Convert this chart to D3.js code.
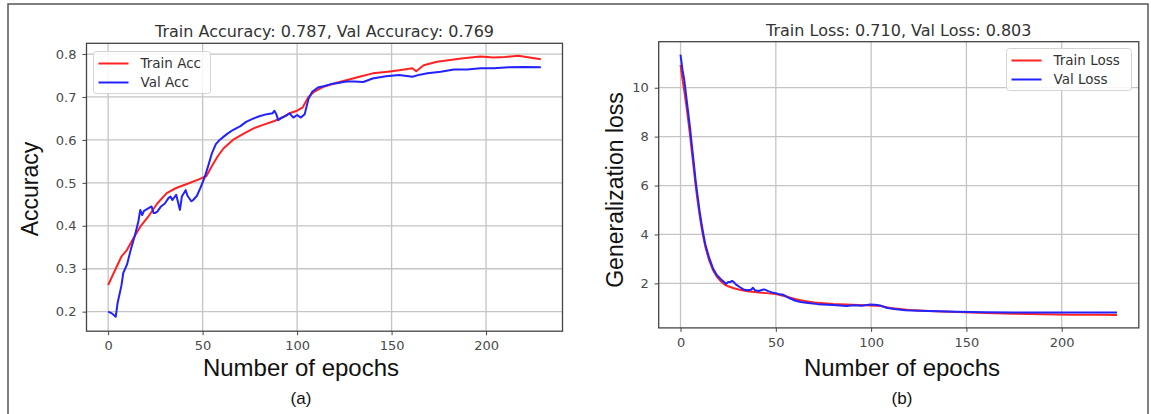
<!DOCTYPE html>
<html>
<head>
<meta charset="utf-8">
<script src="https://cdn.jsdelivr.net/npm/d3@7"></script>
<style>
  body { margin: 0; background: #fff; }
  text { font-family: "DejaVu Sans", sans-serif; }
  .big { font-family: "Liberation Sans", Arial, sans-serif; }
</style>
</head>
<body>
<div id="chart"></div>
<script>
// ---------------- data ----------------
const xTicks = [0, 50, 100, 150, 200]
const accTicks = [0.2, 0.3, 0.4, 0.5, 0.6, 0.7, 0.8]
const lossTicks = [2, 4, 6, 8, 10]

const trainAccEpochs = [0, 4, 7, 10, 13, 17, 21, 26, 31, 36,
    42, 48, 52, 55, 58, 61, 66, 72, 77, 82,
    88, 93, 96, 100, 103, 106, 109, 114, 121, 126,
    133, 140, 148, 155, 161, 163, 167, 174, 181, 188,
    197, 204, 210, 217, 223, 229]
const trainAcc = [0.262, 0.30, 0.328, 0.344, 0.368, 0.398, 0.42, 0.452, 0.476, 0.488,
    0.498, 0.508, 0.516, 0.54, 0.562, 0.58, 0.60, 0.615, 0.627, 0.635,
    0.644, 0.654, 0.662, 0.668, 0.676, 0.70, 0.712, 0.724, 0.733, 0.739,
    0.747, 0.755, 0.759, 0.763, 0.767, 0.760, 0.774, 0.782, 0.786, 0.790,
    0.794, 0.792, 0.793, 0.796, 0.792, 0.788]

const valAccEpochs = [0, 2, 4, 5, 7, 8, 10, 12, 14, 16,
    17, 18, 19, 21, 23, 24, 25, 26, 28, 30,
    32, 33, 34, 36, 37, 38, 39, 41, 42, 44,
    45, 47, 49, 51, 53, 55, 57, 59, 61, 63,
    66, 70, 73, 77, 80, 84, 87, 88, 89, 90,
    92, 94, 96, 98, 100, 102, 104, 106, 108, 111,
    114, 118, 121, 126, 130, 135, 140, 147, 154, 158,
    161, 165, 169, 176, 183, 190, 197, 204, 212, 220,
    229]
const valAcc = [0.200, 0.196, 0.188, 0.22, 0.26, 0.29, 0.31, 0.345, 0.375, 0.41,
    0.437, 0.425, 0.435, 0.44, 0.445, 0.43, 0.43, 0.433, 0.445, 0.452,
    0.465, 0.468, 0.46, 0.472, 0.455, 0.437, 0.468, 0.483, 0.47, 0.457,
    0.46, 0.47, 0.49, 0.512, 0.54, 0.57, 0.59, 0.60, 0.607, 0.614,
    0.623, 0.632, 0.642, 0.65, 0.655, 0.66, 0.662, 0.668, 0.66, 0.646,
    0.652, 0.656, 0.662, 0.652, 0.658, 0.652, 0.66, 0.695, 0.712, 0.722,
    0.725, 0.73, 0.732, 0.736, 0.736, 0.735, 0.743, 0.748, 0.751, 0.749,
    0.747, 0.752, 0.755, 0.759, 0.764, 0.764, 0.767, 0.767, 0.769, 0.770,
    0.769]

const trainLossEpochs = [0, 1, 2, 3, 4, 5, 6, 7, 8, 9,
    10, 11, 12, 13, 15, 17, 19, 21, 23, 25,
    28, 31, 35, 40, 45, 50, 55, 60, 65, 70,
    80, 90, 100, 105, 110, 120, 130, 145, 160, 175,
    190, 205, 220, 229]
const trainLoss = [10.93, 10.35, 9.85, 9.3, 8.7, 8.05, 7.35, 6.65, 5.95, 5.35,
    4.8, 4.3, 3.88, 3.5, 2.95, 2.55, 2.28, 2.1, 1.96, 1.88,
    1.8, 1.74, 1.68, 1.64, 1.6, 1.56, 1.47, 1.36, 1.28, 1.22,
    1.16, 1.12, 1.09, 1.07, 0.99, 0.91, 0.87, 0.83, 0.79, 0.76,
    0.74, 0.72, 0.715, 0.71]

const valLossEpochs = [0, 1, 2, 3, 4, 5, 6, 7, 8, 9,
    10, 11, 12, 13, 15, 17, 19, 21, 23, 24,
    25, 26, 27, 28, 29, 31, 33, 35, 37, 38,
    39, 41, 43, 44, 46, 48, 50, 52, 54, 57,
    60, 63, 67, 72, 80, 87, 91, 95, 99, 102,
    105, 108, 112, 118, 125, 135, 145, 160, 175, 190,
    205, 220, 229]
const valLoss = [11.35, 10.75, 10.3, 9.65, 9.0, 8.35, 7.6, 6.9, 6.15, 5.55,
    4.95, 4.45, 4.0, 3.6, 3.05, 2.62, 2.34, 2.18, 2.04, 1.98,
    2.06, 2.05, 2.1, 2.05, 1.96, 1.85, 1.75, 1.72, 1.74, 1.82,
    1.72, 1.69, 1.74, 1.75, 1.68, 1.63, 1.6, 1.55, 1.53, 1.4,
    1.3, 1.24, 1.2, 1.15, 1.11, 1.07, 1.1, 1.08, 1.13, 1.12,
    1.09, 1.0, 0.95, 0.9, 0.88, 0.86, 0.84, 0.82, 0.81, 0.81,
    0.805, 0.805, 0.803]

// ----------------------------------------------------------

const width = 1151
const height = 414

const svg = d3.select("#chart").append("svg").attr("width", width).attr("height", height)

// marco exterior
svg.append("rect").attr("x", 8).attr("y", 4).attr("width", 1140).attr("height", 430)
    .attr("fill", "none").attr("stroke", "#555").attr("stroke-width", 1.5)

const zip = (xs, ys) => xs.map((e, i) => ({e: e, v: ys[i]}))

function panel(p) {
    const x = d3.scaleLinear().domain([-11.45, 240.45]).range([p.left, p.right])
    const y = d3.scaleLinear().domain(p.yDomain).range([p.bottom, p.top])
    const g = svg.append("g")

    // grid
    g.selectAll(".gx").data(xTicks).enter().append("line")
        .attr("x1", d => x(d)).attr("x2", d => x(d)).attr("y1", p.top).attr("y2", p.bottom)
        .attr("stroke", "#c4c4c4").attr("stroke-width", 1.3)
    g.selectAll(".gy").data(p.yTicks).enter().append("line")
        .attr("x1", p.left).attr("x2", p.right).attr("y1", d => y(d)).attr("y2", d => y(d))
        .attr("stroke", "#c4c4c4").attr("stroke-width", 1.3)

    // ejes
    const gx = g.append("g").attr("transform", `translate(0,${p.bottom})`)
        .call(d3.axisBottom(x).tickValues(xTicks).tickSize(4).tickPadding(6).tickFormat(d3.format("d")))
    const gy = g.append("g").attr("transform", `translate(${p.left},0)`)
        .call(d3.axisLeft(y).tickValues(p.yTicks).tickSize(4).tickPadding(6).tickFormat(p.fmt))
    for (const a of [gx, gy]) {
        a.select(".domain").remove()
        a.selectAll("line").attr("stroke", "#444")
        a.selectAll("text").attr("fill", "#4a4a4a").style("font-size", "13px")
            .style("font-family", "DejaVu Sans")
    }

    // lineas
    const line = d3.line().x(d => x(d.e)).y(d => y(d.v))
    g.append("path").datum(zip(p.trainEp, p.train)).attr("d", line)
        .attr("fill", "none").attr("stroke", "#f22").attr("stroke-width", 2).attr("stroke-linejoin", "round")
    g.append("path").datum(zip(p.valEp, p.val)).attr("d", line)
        .attr("fill", "none").attr("stroke", "#2222ff").attr("stroke-width", 2).attr("stroke-linejoin", "round")

    // caja
    g.append("rect").attr("x", p.left).attr("y", p.top)
        .attr("width", p.right - p.left).attr("height", p.bottom - p.top)
        .attr("fill", "none").attr("stroke", "#444").attr("stroke-width", 1.3)

    // titulo
    g.append("text").attr("x", (p.left + p.right) / 2).attr("y", p.top - 6)
        .attr("text-anchor", "middle").attr("fill", "#333").style("font-size", "16px").text(p.title)

    // etiquetas
    g.append("text").attr("class", "big").attr("x", p.xLabelX).attr("y", 376)
        .attr("text-anchor", "middle").attr("fill", "#111").style("font-size", "24px").text("Number of epochs")
    g.append("text").attr("class", "big")
        .attr("transform", `translate(${p.yLabelX},${p.yLabelY}) rotate(-90)`)
        .attr("text-anchor", "middle").attr("fill", "#111").style("font-size", "23px").text(p.yLabel)
    g.append("text").attr("class", "big").attr("x", p.xLabelX).attr("y", 404)
        .attr("text-anchor", "middle").attr("fill", "#111").style("font-size", "17px").text(p.sub)

    // leyenda
    const lg = g.append("g").attr("transform", `translate(${p.legX},${p.legY})`)
    lg.append("rect").attr("width", p.legW).attr("height", 42).attr("rx", 3)
        .attr("fill", "#fff").attr("fill-opacity", 0.85).attr("stroke", "#d4d4d4")
    p.names.forEach((n, i) => {
        lg.append("line").attr("x1", 5).attr("x2", 35).attr("y1", 12 + i * 19).attr("y2", 12 + i * 19)
            .attr("stroke", i == 0 ? "#f22" : "#2222ff").attr("stroke-width", 2)
        lg.append("text").attr("x", 47).attr("y", 12 + i * 19).attr("dy", "0.35em")
            .attr("fill", "#333").style("font-size", "13.5px").text(n)
    })
}

panel({
    left: 86.5, right: 562.5, top: 43.3, bottom: 331.2,
    yDomain: [0.1545, 0.825], yTicks: accTicks, fmt: d3.format(".1f"),
    trainEp: trainAccEpochs, train: trainAcc, valEp: valAccEpochs, val: valAcc,
    title: "Train Accuracy: 0.787, Val Accuracy: 0.769",
    xLabelX: 301, yLabel: "Accuracy", yLabelX: 38, yLabelY: 189, sub: "(a)",
    names: ["Train Acc", "Val Acc"], legX: 93.5, legY: 51.5, legW: 117
})

panel({
    left: 658.7, right: 1138.8, top: 41.7, bottom: 327.9,
    yDomain: [0.178, 11.882], yTicks: lossTicks, fmt: d3.format("d"),
    trainEp: trainLossEpochs, train: trainLoss, valEp: valLossEpochs, val: valLoss,
    title: "Train Loss: 0.710, Val Loss: 0.803",
    xLabelX: 902, yLabel: "Generalization loss", yLabelX: 623, yLabelY: 190, sub: "(b)",
    names: ["Train Loss", "Val Loss"], legX: 1006.5, legY: 48.5, legW: 125
})
</script>
</body>
</html>
